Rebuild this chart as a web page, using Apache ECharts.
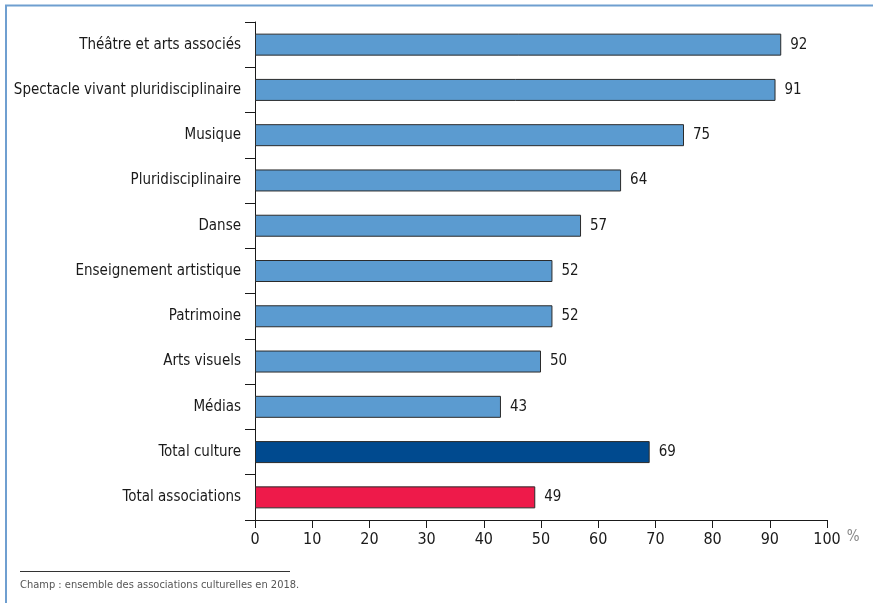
<!DOCTYPE html>
<html>
<head>
<meta charset="utf-8">
<script src="https://cdn.jsdelivr.net/npm/echarts@6/dist/echarts.min.js"></script>
<style>
  html, body { margin: 0; padding: 0; background: #fff; }
  #chart { width: 873px; height: 603px; }
</style>
</head>
<body>
<div id="chart"></div>
<script>
const categories = [
  'Théâtre et arts associés',
  'Spectacle vivant pluridisciplinaire',
  'Musique',
  'Pluridisciplinaire',
  'Danse',
  'Enseignement artistique',
  'Patrimoine',
  'Arts visuels',
  'Médias',
  'Total culture',
  'Total associations'
]
const values = [92, 91, 75, 64, 57, 52, 52, 50, 43, 69, 49]
const barColors = ['#5b9bd0', '#5b9bd0', '#5b9bd0', '#5b9bd0', '#5b9bd0', '#5b9bd0',
  '#5b9bd0', '#5b9bd0', '#5b9bd0', '#004a8f', '#ee1a4a']
const xTicks = [0, 10, 20, 30, 40, 50, 60, 70, 80, 90, 100]

const font = '"DejaVu Sans Condensed", "Liberation Sans Narrow", sans-serif'

const myChart = echarts.init(document.getElementById('chart'))
const option = {
  animation: false,
  grid: { left: 255, right: 46, top: 22, bottom: 83 },
  xAxis: {
    type: 'value',
    min: xTicks[0],
    max: xTicks[xTicks.length - 1],
    interval: 10,
    name: '%',
    nameLocation: 'end',
    nameGap: 5,
    nameTextStyle: { color: '#888', fontSize: 15, fontFamily: font, verticalAlign: 'top', padding: [10, 0, 0, 0] },
    axisLine: { show: true, lineStyle: { color: '#1a1a1a', width: 1 } },
    axisTick: { show: true, inside: false, length: 8, lineStyle: { color: '#1a1a1a' } },
    axisLabel: { color: '#1a1a1a', fontSize: 16, fontFamily: font, margin: 12 },
    splitLine: { show: false }
  },
  yAxis: {
    type: 'category',
    inverse: true,
    data: categories,
    axisLine: { show: true, lineStyle: { color: '#1a1a1a', width: 1 } },
    axisTick: { show: true, length: 10, alignWithLabel: false, lineStyle: { color: '#1a1a1a' } },
    axisLabel: { color: '#1a1a1a', fontSize: 15, fontFamily: font, margin: 14 }
  },
  series: [{
    type: 'bar',
    barWidth: 22,
    data: values.map((v, i) => ({
      value: v,
      itemStyle: { color: barColors[i] }
    })),
    itemStyle: { borderColor: '#2b2b2b', borderWidth: 1 },
    label: {
      show: true,
      position: 'right',
      distance: 9,
      color: '#1a1a1a',
      fontSize: 15,
      fontFamily: font
    }
  }],
  graphic: [
    { type: 'line', shape: { x1: 5, y1: 5.5, x2: 873, y2: 5.5 }, style: { stroke: '#6f9fd0', lineWidth: 2 } },
    { type: 'line', shape: { x1: 6, y1: 5, x2: 6, y2: 603 }, style: { stroke: '#6f9fd0', lineWidth: 2 } },
    { type: 'line', shape: { x1: 20, y1: 571.5, x2: 290, y2: 571.5 }, style: { stroke: '#333', lineWidth: 1 } },
    {
      type: 'text', left: 20, top: 580,
      style: { text: 'Champ : ensemble des associations culturelles en 2018.', fill: '#555', fontSize: 11, fontFamily: font }
    }
  ]
}
myChart.setOption(option)
</script>
</body>
</html>
